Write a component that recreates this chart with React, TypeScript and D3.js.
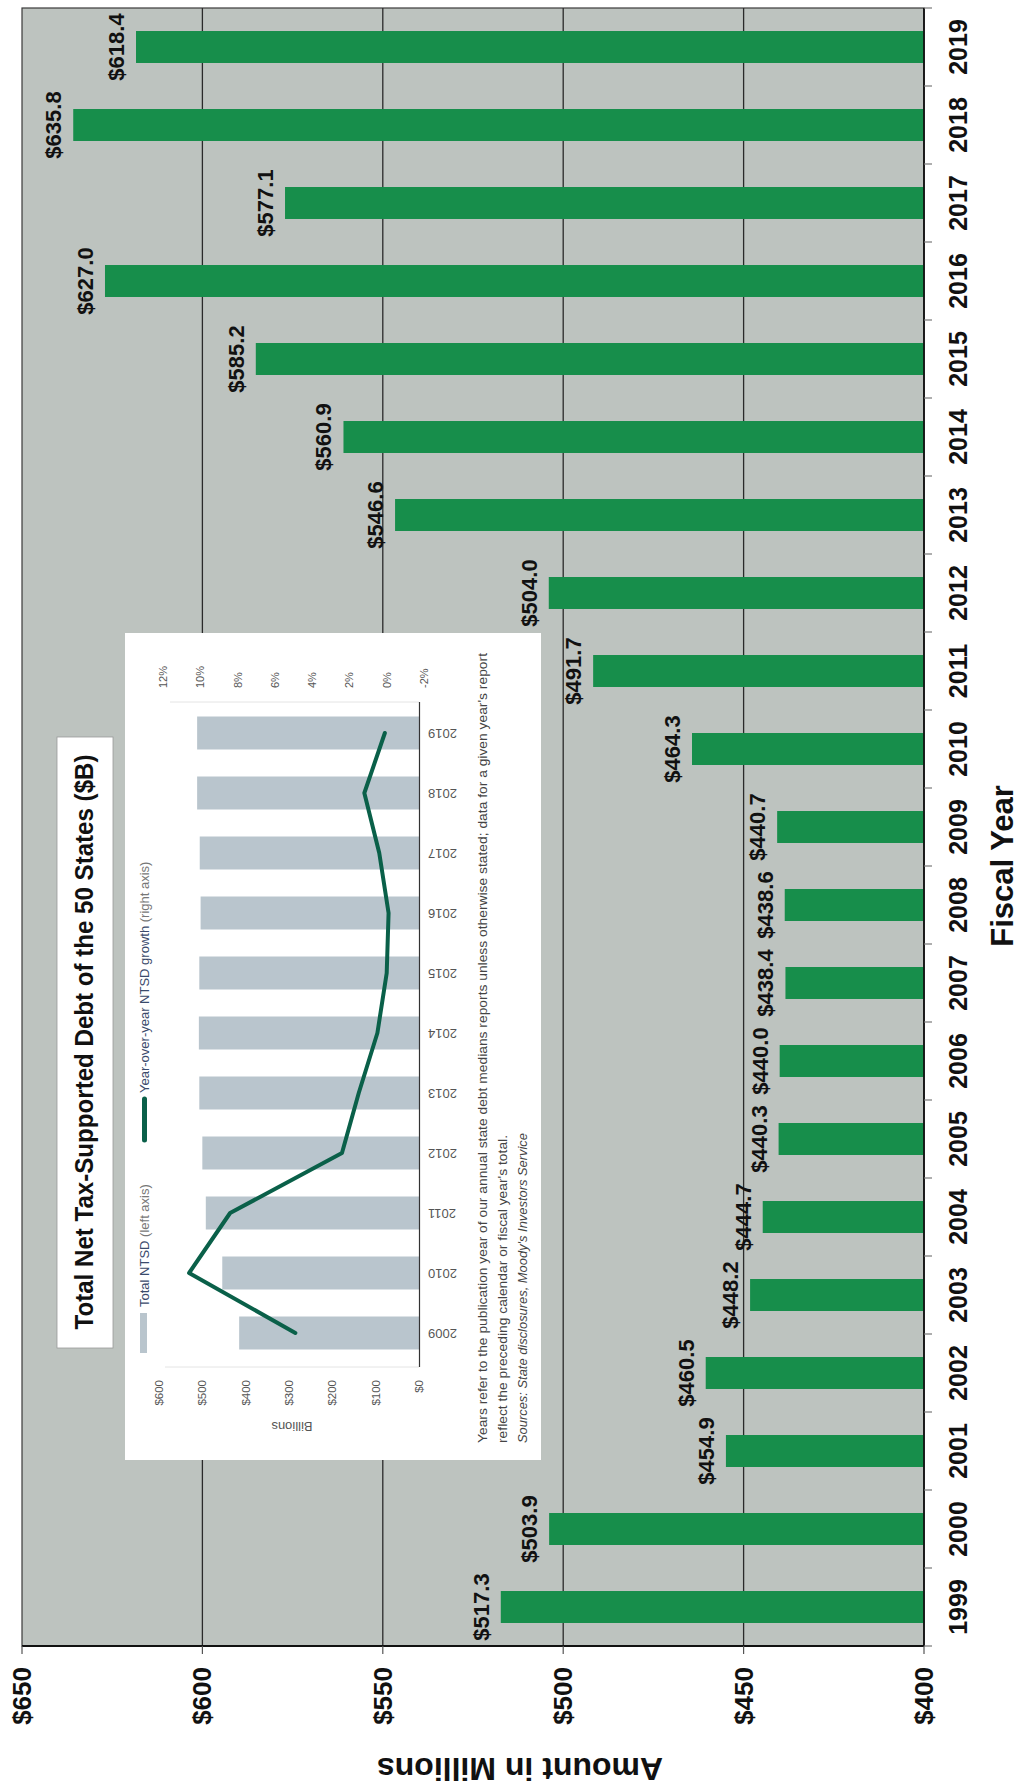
import React from "react";
import * as d3 from "d3";

// ---- data ----
const years = ["1999","2000","2001","2002","2003","2004","2005","2006","2007","2008","2009","2010","2011","2012","2013","2014","2015","2016","2017","2018","2019"];
const debt = [517.3, 503.9, 454.9, 460.5, 448.2, 444.7, 440.3, 440.0, 438.4, 438.6, 440.7, 464.3, 491.7, 504.0, 546.6, 560.9, 585.2, 627.0, 577.1, 635.8, 618.4];
const valueTicks = [400, 450, 500, 550, 600, 650];

const insetYears = ["2009","2010","2011","2012","2013","2014","2015","2016","2017","2018","2019"];
const insetTotal = [415, 454, 492, 500, 507, 508, 507, 504, 506, 512, 512];
const insetGrowth = [4.9, 10.6, 8.4, 2.4, 1.5, 0.5, 0.0, -0.1, 0.4, 1.2, 0.1];
const insetDollarTicks = [0, 100, 200, 300, 400, 500, 600];
const insetPctTicks = [-2, 0, 2, 4, 6, 8, 10, 12];

const footnote = [
  "Years refer to the publication year of our annual state debt medians reports unless otherwise stated; data for a given year's report",
  "reflect the preceding calendar or fiscal year's total.",
  "Sources: State disclosures, Moody's Investors Service",
];

const W = 1788; // original (unrotated) width
const FONT = "'Liberation Sans', Arial, Helvetica, sans-serif";

export default function App() {
  // main scales (original landscape frame)
  const x = d3.scaleBand<string>().domain(years).range([142, 1780]).paddingInner(0.59).paddingOuter(0.295);
  const y = d3.scaleLinear().domain([400, 650]).range([924, 22]);
  const step = x.step();

  // inset scales
  const xi = d3.scaleBand<string>().domain(insetYears).range([425, 1085]).paddingInner(0.45).paddingOuter(0.225);
  const yi = d3.scaleLinear().domain([0, 600]).range([419, 159]);
  const yp = d3.scaleLinear().domain([-2, 12]).range([424, 163]);
  const line = d3.line<number>()
    .x((_, i) => (xi(insetYears[i]) as number) + xi.bandwidth() / 2)
    .y((d) => yp(d));

  const plotL = 142, plotR = 1780, plotT = 22, plotB = 924;

  return (
    <svg width={1021} height={1788} style={{ position: "absolute", left: 0, top: 0, background: "#fff" }}>
      <rect x={0} y={0} width={1021} height={1788} fill="#fff" />
      <g transform={`translate(0,${W}) rotate(-90)`} fontFamily={FONT}>
        {/* plot background */}
        <rect x={plotL} y={plotT} width={plotR - plotL} height={plotB - plotT} fill="#bdc3bf" stroke="#3a3a3a" strokeWidth={1.2} />
        {/* gridlines */}
        {valueTicks.filter((v) => v !== 400 && v !== 650).map((v) => (
          <line key={"g" + v} x1={plotL} x2={plotR} y1={y(v)} y2={y(v)} stroke="#2a2a2a" strokeWidth={1.3} />
        ))}
        {/* bars */}
        {years.map((yr, i) => (
          <rect key={"b" + yr} x={x(yr)} y={y(debt[i])} width={x.bandwidth()} height={y(400) - y(debt[i])} fill="#178e4b" />
        ))}
        {/* axes */}
        <line x1={plotL} x2={plotL} y1={plotT} y2={plotB} stroke="#111" strokeWidth={1.8} />
        <line x1={plotL} x2={plotR} y1={plotB} y2={plotB} stroke="#111" strokeWidth={1.8} />
        {valueTicks.map((v) => (
          <line key={"yt" + v} x1={plotL - 8} x2={plotL} y1={y(v)} y2={y(v)} stroke="#555" strokeWidth={1.2} />
        ))}
        {years.map((yr, i) => (
          <line key={"xt" + yr} x1={plotL + i * step} x2={plotL + i * step} y1={plotB} y2={plotB + 8} stroke="#777" strokeWidth={1.2} />
        ))}
        <line x1={plotR} x2={plotR} y1={plotB} y2={plotB + 8} stroke="#777" strokeWidth={1.2} />
        {/* value tick labels */}
        {valueTicks.map((v) => (
          <text key={"yl" + v} x={121} y={y(v)} textAnchor="end" dominantBaseline="central" fontSize={26} fontWeight="bold" fill="#111">
            {"$" + v}
          </text>
        ))}
        {/* year labels */}
        {years.map((yr) => (
          <text key={"xl" + yr} x={(x(yr) as number) + x.bandwidth() / 2} y={967} textAnchor="middle" fontSize={25} fontWeight="bold" fill="#111">
            {yr}
          </text>
        ))}
        {/* data labels */}
        {years.map((yr, i) => (
          <text key={"dl" + yr} x={(x(yr) as number) + x.bandwidth() / 2} y={y(debt[i]) - 12} textAnchor="middle" fontSize={22} fontWeight="bold" fill="#111">
            {"$" + debt[i].toFixed(1)}
          </text>
        ))}
        {/* axis titles */}
        <text transform={`translate(30,520) rotate(-90)`} textAnchor="middle" fontSize={32} fontWeight="bold" fill="#111">
          Amount in Millions
        </text>
        <text x={922} y={1013} textAnchor="middle" fontSize={31} fontWeight="bold" fill="#111">
          Fiscal Year
        </text>

        {/* ---- inset ---- */}
        <rect x={328} y={125} width={1155 - 328} height={541 - 125} fill="#fff" />
        <line x1={421} x2={421} y1={165} y2={419} stroke="#e4e4e4" strokeWidth={1} />
        <line x1={1086} x2={1086} y1={170} y2={419} stroke="#e4e4e4" strokeWidth={1} />
        {insetYears.map((yr, i) => (
          <rect key={"ib" + yr} x={xi(yr)} y={yi(insetTotal[i])} width={xi.bandwidth()} height={yi(0) - yi(insetTotal[i])} fill="#b9c5cd" />
        ))}
        <line x1={421} x2={1086} y1={yi(0) + 0.5} y2={yi(0) + 0.5} stroke="#333" strokeWidth={1.2} />
        <path d={line(insetGrowth) || ""} fill="none" stroke="#0a6049" strokeWidth={4} strokeLinejoin="round" strokeLinecap="round" />
        {insetDollarTicks.map((v) => (
          <text key={"id" + v} x={408} y={yi(v)} textAnchor="end" dominantBaseline="central" fontSize={11.5} fill="#555">
            {"$" + v}
          </text>
        ))}
        {insetPctTicks.map((v) => (
          <text key={"ip" + v} x={1100} y={yp(v)} textAnchor="start" dominantBaseline="central" fontSize={11} fill="#555">
            {v + "%"}
          </text>
        ))}
        {insetYears.map((yr) => (
          <text key={"iy" + yr} transform={`translate(${(xi(yr) as number) + xi.bandwidth() / 2 + 4.5},428) rotate(-90)`} textAnchor="end" fontSize={13} fill="#555">
            {yr}
          </text>
        ))}
        <text transform={`translate(366,292) rotate(-90)`} textAnchor="middle" fontSize={13} fill="#555">
          Billions
        </text>
        {/* inset legend */}
        <line x1={435} x2={475} y1={143.5} y2={143.5} stroke="#b9c5cd" strokeWidth={7} />
        <text x={481} y={148.5} fontSize={13} fill="#3a4a6b">
          Total NTSD <tspan fill="#777">(left axis)</tspan>
        </text>
        <line x1={648} x2={689} y1={144.5} y2={144.5} stroke="#0a6049" strokeWidth={5} strokeLinecap="round" />
        <text x={695} y={149} fontSize={13} fill="#3a4a6b">
          Year-over-year NTSD growth <tspan fill="#777">(right axis)</tspan>
        </text>
        {/* footnote */}
        <text x={345} y={487} fontSize={13.5} fill="#444" textLength={790} lengthAdjust="spacingAndGlyphs">{footnote[0]}</text>
        <text x={345} y={507} fontSize={13.5} fill="#444" textLength={308} lengthAdjust="spacingAndGlyphs">{footnote[1]}</text>
        <text x={345} y={527} fontSize={13.5} fill="#444" fontStyle="italic" textLength={310} lengthAdjust="spacingAndGlyphs">{footnote[2]}</text>

        {/* title box */}
        <rect x={440} y={57} width={1051 - 440} height={113 - 57} fill="#fff" stroke="#999" strokeWidth={0.8} />
        <text x={746} y={93} textAnchor="middle" fontSize={25} fontWeight="bold" fill="#111" textLength={575} lengthAdjust="spacingAndGlyphs">
          Total Net Tax-Supported Debt of the 50 States ($B)
        </text>
      </g>
    </svg>
  );
}
